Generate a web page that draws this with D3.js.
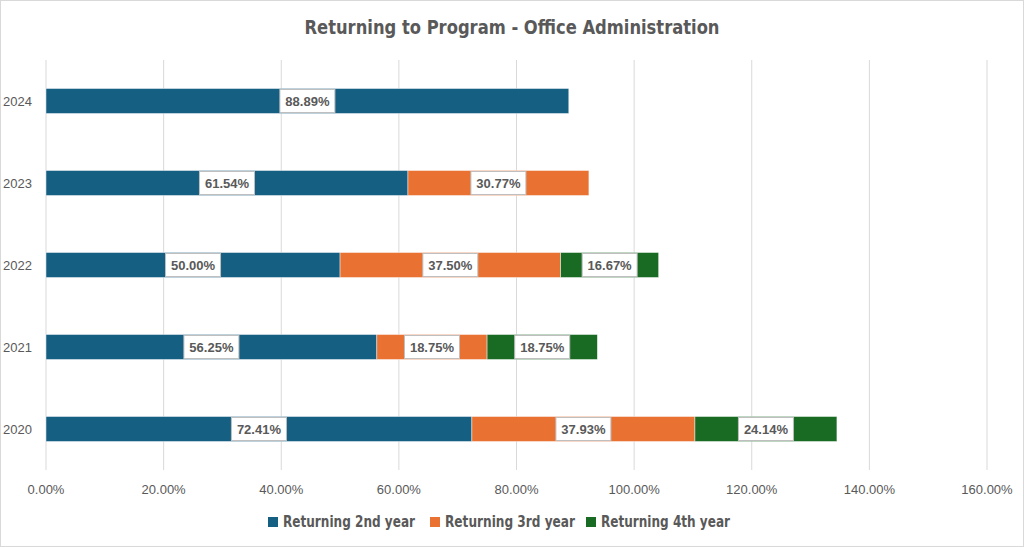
<!DOCTYPE html>
<html>
<head>
<meta charset="utf-8">
<script src="https://cdn.jsdelivr.net/npm/d3@7"></script>
<style>
  body { margin: 0; background: #fff; }
  svg { display: block; }
</style>
</head>
<body>
<script>
var years = ["2024", "2023", "2022", "2021", "2020"];
var seriesNames = ["Returning 2nd year", "Returning 3rd year", "Returning 4th year"];
var colors = ["#156082", "#e97132", "#196b24"];
// values in percent, null = no value for that year
var second = [88.89, 61.54, 50.00, 56.25, 72.41];
var third  = [null, 30.77, 37.50, 18.75, 37.93];
var fourth = [null, null, 16.67, 18.75, 24.14];
var xTicks = [0, 20, 40, 60, 80, 100, 120, 140, 160];

var w = 1024, h = 547;
var grey = "#595959";
var narrow = "DejaVu Sans Condensed, Liberation Sans Narrow, sans-serif";

var svg = d3.select("body").append("svg")
    .attr("width", w)
    .attr("height", h);

svg.append("rect")
    .attr("x", 0.5).attr("y", 0.5)
    .attr("width", w - 1).attr("height", h - 1)
    .attr("fill", "#fff")
    .attr("stroke", "#d9d9d9");

var x = d3.scaleLinear().domain([0, 160]).range([46, 987]);
var y = d3.scaleBand().domain(years).range([60, 470])
    .paddingInner(0.695).paddingOuter(0.3475);

// gridlines
svg.append("g")
  .selectAll("line")
  .data(xTicks)
  .enter().append("line")
    .attr("x1", function(d) { return x(d); })
    .attr("x2", function(d) { return x(d); })
    .attr("y1", 60)
    .attr("y2", 470)
    .attr("stroke", "#d9d9d9")
    .attr("stroke-width", 1);

// x axis labels
svg.append("g")
  .selectAll("text")
  .data(xTicks)
  .enter().append("text")
    .attr("x", function(d) { return x(d); })
    .attr("y", 494)
    .attr("text-anchor", "middle")
    .attr("font-family", "Liberation Sans, Arial, sans-serif")
    .attr("font-size", 13)
    .attr("fill", grey)
    .text(function(d) { return d.toFixed(2) + "%"; });

// y axis labels
svg.append("g")
  .selectAll("text")
  .data(years)
  .enter().append("text")
    .attr("x", 3)
    .attr("y", function(d) { return y(d) + y.bandwidth() / 2; })
    .attr("dy", "0.35em")
    .attr("font-family", "Liberation Sans, Arial, sans-serif")
    .attr("font-size", 13)
    .attr("fill", grey)
    .text(function(d) { return d; });

// build stacked segments
var segs = [];
years.forEach(function(yr, i) {
  var start = 0;
  [second[i], third[i], fourth[i]].forEach(function(v, k) {
    if (v == null) return;
    segs.push({ year: yr, k: k, x0: start, x1: start + v, v: v });
    start += v;
  });
});

var bars = svg.append("g");
bars.selectAll("rect")
  .data(segs)
  .enter().append("rect")
    .attr("x", function(d) { return x(d.x0); })
    .attr("y", function(d) { return y(d.year); })
    .attr("width", function(d) { return x(d.x1) - x(d.x0); })
    .attr("height", y.bandwidth())
    .attr("fill", function(d) { return colors[d.k]; })
    .attr("stroke", "#fff")
    .attr("stroke-opacity", 0.6)
    .attr("stroke-width", 0.75);

// data labels
var lab = svg.append("g").selectAll("g")
  .data(segs)
  .enter().append("g")
    .attr("transform", function(d) {
      return "translate(" + x((d.x0 + d.x1) / 2) + "," + (y(d.year) + y.bandwidth() / 2) + ")";
    });

lab.append("rect")
    .attr("x", -27.5)
    .attr("y", -11.5)
    .attr("width", 55)
    .attr("height", 23)
    .attr("fill", "#fff")
    .attr("stroke", "#bfbfbf")
    .attr("stroke-width", 1);

lab.append("text")
    .attr("text-anchor", "middle")
    .attr("dy", "0.36em")
    .attr("font-family", "Liberation Sans, Arial, sans-serif")
    .attr("font-weight", "bold")
    .attr("font-size", 13)
    .attr("fill", grey)
    .text(function(d) { return d.v.toFixed(2) + "%"; });

// title
svg.append("text")
    .attr("x", 512)
    .attr("y", 34)
    .attr("text-anchor", "middle")
    .attr("font-family", narrow)
    .attr("font-weight", "bold")
    .attr("font-size", 20)
    .attr("textLength", 415)
    .attr("lengthAdjust", "spacingAndGlyphs")
    .attr("fill", grey)
    .text("Returning to Program - Office Administration");

// legend
var legendX = [268, 430, 586];
var legendW = [132, 130, 129];
var leg = svg.append("g").selectAll("g")
  .data(seriesNames)
  .enter().append("g")
    .attr("transform", function(d, i) { return "translate(" + legendX[i] + ",522)"; });

leg.append("rect")
    .attr("x", 0).attr("y", -5)
    .attr("width", 10).attr("height", 10)
    .attr("fill", function(d, i) { return colors[i]; });

leg.append("text")
    .attr("x", 15)
    .attr("dy", "0.36em")
    .attr("font-family", narrow)
    .attr("font-weight", "bold")
    .attr("font-size", 15)
    .attr("textLength", function(d, i) { return legendW[i]; })
    .attr("lengthAdjust", "spacingAndGlyphs")
    .attr("fill", grey)
    .text(function(d) { return d; });
</script>
</body>
</html>
